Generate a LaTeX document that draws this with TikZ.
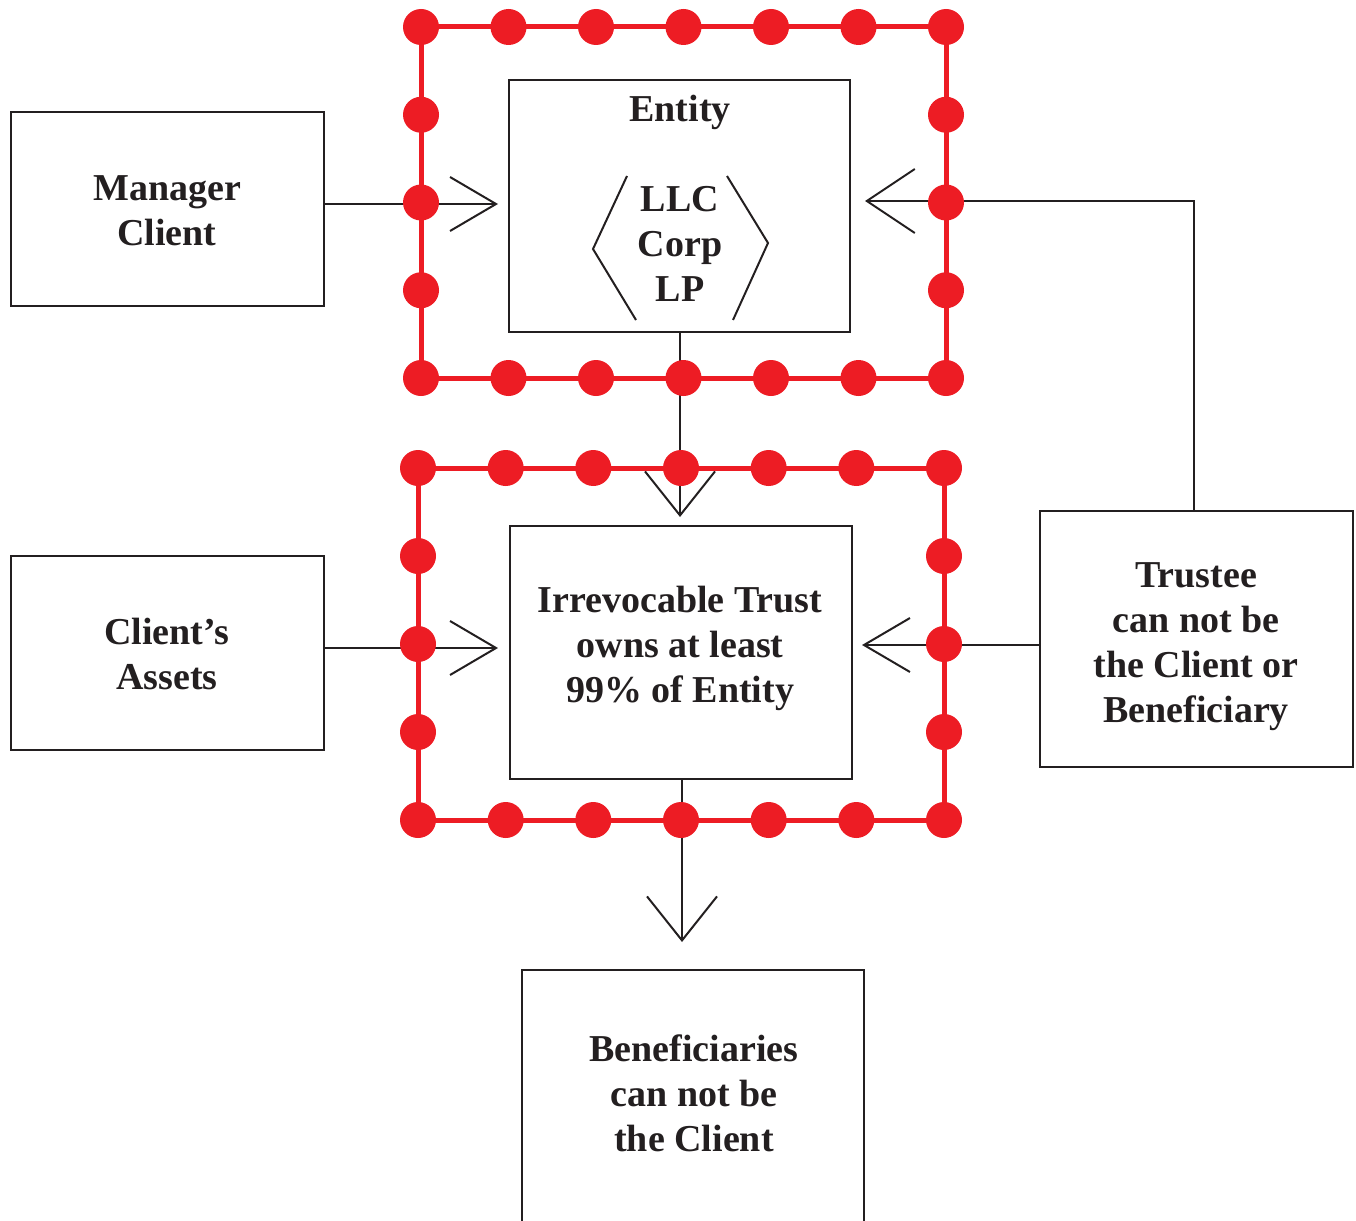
\documentclass[tikz,border=0pt]{standalone}
\usepackage{fontspec}
\setmainfont{Liberation Serif}
\usetikzlibrary{arrows.meta}
\definecolor{dotred}{RGB}{237,28,36}
\definecolor{ink}{RGB}{35,31,32}
\begin{document}
\begin{tikzpicture}[x=1pt,y=-1pt,
  box/.style={draw=ink, line width=2.5pt, inner sep=0pt},
  lbl/.style={font=\fontsize{38}{45}\selectfont\bfseries, align=center, text=ink, inner sep=0pt},
  conn/.style={line width=2pt, draw=ink},
  arr/.style={conn, -{Straight Barb[length=46pt,width=54pt,line width=2pt]}},
  arrwide/.style={conn, -{Straight Barb[length=44pt,width=70pt,line width=2pt]}},
  arrmid/.style={conn, -{Straight Barb[length=48pt,width=64pt,line width=2pt]}},
  frame/.style={draw=dotred, line width=5pt},
  dot/.style={circle, fill=dotred, minimum size=36pt, inner sep=0pt}]
\useasboundingbox (0,0) rectangle (1356,1220);
% boxes
\node[box, minimum width=313pt, minimum height=194pt] (mgr) at (167.5,209) {};
\node[box, minimum width=313pt, minimum height=194pt] (assets) at (167.5,653) {};
\node[box, minimum width=341pt, minimum height=252pt] (entity) at (679.5,206) {};
\node[box, minimum width=342pt, minimum height=253pt] (trust) at (681,652.5) {};
\node[box, minimum width=313pt, minimum height=256pt] (trustee) at (1196.5,639) {};
\node[box, minimum width=342pt, minimum height=300pt] (benef) at (693,1120) {};
% texts
\node[lbl] (tmgr) at (167,211) {Manager\\Client};
\node[lbl] (tassets) at (167,654) {Client's\\Assets};
\node[lbl] (tentity) at (680,112) {Entity};
\node[lbl] (tforms) at (680,244) {LLC\\Corp\\LP};
\node[lbl] (ttrust) at (680,648) {Irrevocable Trust\\owns at least\\99\% of Entity};
\node[lbl] (ttrustee) at (1196,647) {Trustee\\can not be\\the Client or\\Beneficiary};
\node[lbl] (tbenef) at (694,1093) {Beneficiaries\\can not be\\the Client};
% hexagon brackets
\draw[conn] (627,176) -- (593,249) -- (636,320);
\draw[conn] (727,176) -- (768,243) -- (733,320);
% connectors
\coordinate (tipE1) at (498,204);
\coordinate (tipE2) at (865,201);
\coordinate (tipT1) at (680,517);
\coordinate (tipT2) at (498,648);
\coordinate (tipT3) at (862,645);
\coordinate (tipB) at (682,942);
\draw[arr] (mgr.east |- tipE1) -- (tipE1);
\draw[arrmid] ([xshift=-3pt]trustee.north) |- (tipE2);
\draw[arrwide] (entity.south -| tipT1) -- (tipT1);
\draw[arr] (assets.east |- tipT2) -- (tipT2);
\draw[arr] (trustee.west |- tipT3) -- (tipT3);
\draw[arrwide] (trust.south -| tipB) -- (tipB);
% red dotted frames
\draw[frame] (421,27) rectangle (946,378);
\foreach \x [count=\i] in {421,508.5,596,683.5,771,858.5,946} {
  \node[dot] (fa-t\i) at (\x,27) {};
  \node[dot] (fa-b\i) at (\x,378) {};
}
\foreach \y [count=\i] in {114.75,202.5,290.25} {
  \node[dot] (fa-l\i) at (421,\y) {};
  \node[dot] (fa-r\i) at (946,\y) {};
}
\draw[frame] (418,468) rectangle (944,820);
\foreach \x [count=\i] in {418,505.7,593.3,681,768.7,856.3,944} {
  \node[dot] (fb-t\i) at (\x,468) {};
  \node[dot] (fb-b\i) at (\x,820) {};
}
\foreach \y [count=\i] in {556,644,732} {
  \node[dot] (fb-l\i) at (418,\y) {};
  \node[dot] (fb-r\i) at (944,\y) {};
}
\end{tikzpicture}
\end{document}
